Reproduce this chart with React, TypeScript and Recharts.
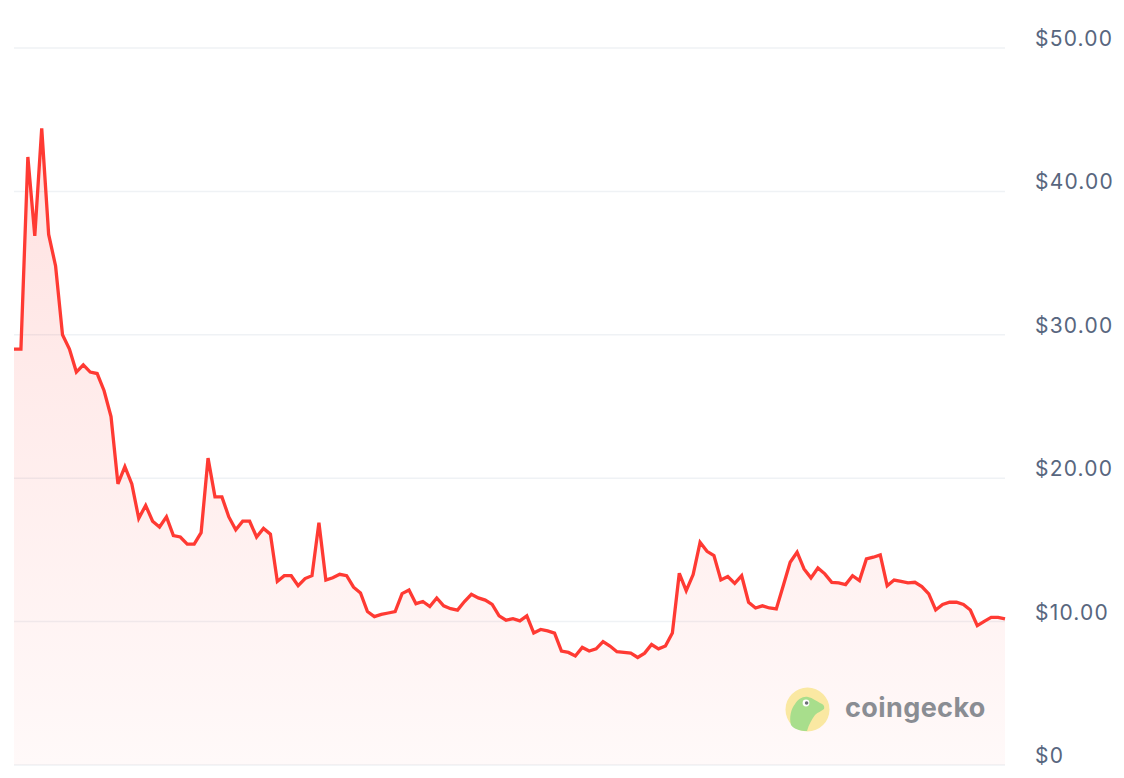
import React from 'react';
import { AreaChart, Area, XAxis, YAxis, CartesianGrid } from 'recharts';

// daily price
const prices: number[] = [
  29.0, 29.0, 42.4, 36.9, 44.4, 37.0, 34.8, 30.0, 29.0, 27.4,
  27.9, 27.4, 27.3, 26.1, 24.3, 19.6, 20.8, 19.6, 17.2, 18.1,
  17.0, 16.6, 17.3, 16.0, 15.9, 15.4, 15.4, 16.2, 21.4, 18.7,
  18.7, 17.3, 16.4, 17.0, 17.0, 15.9, 16.5, 16.1, 12.8, 13.2,
  13.2, 12.5, 13.0, 13.2, 16.9, 12.9, 13.06, 13.3, 13.2, 12.4,
  12.0, 10.7, 10.35, 10.5, 10.6, 10.7, 11.95, 12.2, 11.25, 11.4,
  11.05, 11.65, 11.1, 10.9, 10.8, 11.4, 11.9, 11.65, 11.5, 11.2,
  10.4, 10.1, 10.2, 10.05, 10.4, 9.2, 9.45, 9.35, 9.2, 7.95,
  7.85, 7.6, 8.2, 7.95, 8.1, 8.6, 8.3, 7.9, 7.85, 7.8,
  7.5, 7.8, 8.4, 8.1, 8.3, 9.2, 13.37, 12.16, 13.28, 15.53,
  14.9, 14.6, 12.9, 13.14, 12.67, 13.2, 11.35, 10.95, 11.1, 10.95,
  10.88, 12.5, 14.14, 14.84, 13.67, 13.05, 13.74, 13.33, 12.74, 12.7,
  12.58, 13.2, 12.86, 14.37, 14.49, 14.65, 12.5, 12.9, 12.81, 12.7,
  12.74, 12.44, 11.93, 10.81, 11.19, 11.35, 11.35, 11.19, 10.81, 9.72,
  10.02, 10.3, 10.3, 10.19,
];

const priceTicks = [0, 10, 20, 30, 40, 50];

const data = prices.map((price, i) => ({ day: i, price }));

const formatPrice = (v: number) => (v === 0 ? '$0' : `$${v.toFixed(2)}`);

const PriceTick = (props: any) => {
  const { x, y, payload } = props;
  return (
    <text
      x={x}
      y={y - 2}
      textAnchor="start"
      fill="#58667e"
      fontSize={21}
      fontFamily="Inter, 'Noto Sans', sans-serif"
      letterSpacing={1.2}
    >
      {formatPrice(payload.value)}
    </text>
  );
};

const GeckoLogo = () => (
  <svg width={210} height={48} style={{ position: 'absolute', left: 785, top: 687 }}>
    <circle cx={22.5} cy={22.5} r={22} fill="#fae8a2" />
    <path
      d="M6 38 C4 30 6 22 10 17 C13 12 18 9 23 10 C28 11 31 14 35 16 C38 17 40 19 39 22 C37 24 33 25 30 28 C27 32 24 37 22 44 C15 44 9 42 6 38 Z"
      fill="#a8de8c"
    />
    <circle cx={21} cy={16} r={3.4} fill="#ffffff" />
    <circle cx={21.6} cy={16} r={1.8} fill="#6b6f75" />
    <text
      x={60}
      y={30}
      fill="#8a8d93"
      fontSize={27}
      fontWeight={700}
      fontFamily="Inter, 'Noto Sans', sans-serif"
      letterSpacing={0.4}
    >
      coingecko
    </text>
  </svg>
);

export default function App() {
  return (
    <div style={{ position: 'absolute', left: 0, top: 0, width: 1124, height: 778, background: '#ffffff' }}>
      <AreaChart width={1124} height={778} data={data} margin={{ top: 48, right: 0, bottom: 13, left: 14 }}>
        <defs>
          <linearGradient id="priceFill" x1="0" y1="0" x2="0" y2="1">
            <stop offset="0%" stopColor="#ff3a33" stopOpacity={0.25} />
            <stop offset="100%" stopColor="#ff3a33" stopOpacity={0.05} />
          </linearGradient>
        </defs>
        <CartesianGrid vertical={false} stroke="#eff2f5" strokeWidth={1.5} />
        <XAxis dataKey="day" type="number" domain={[0, prices.length - 1]} hide />
        <YAxis
          orientation="right"
          width={119}
          domain={[0, 50]}
          ticks={priceTicks}
          axisLine={false}
          tickLine={false}
          tickSize={0}
          tickMargin={30}
          tick={<PriceTick />}
        />
        <Area
          type="linear"
          dataKey="price"
          stroke="#ff3a33"
          strokeWidth={3.3}
          fill="url(#priceFill)"
          dot={false}
          activeDot={false}
          isAnimationActive={false}
        />
      </AreaChart>
      <GeckoLogo />
    </div>
  );
}
